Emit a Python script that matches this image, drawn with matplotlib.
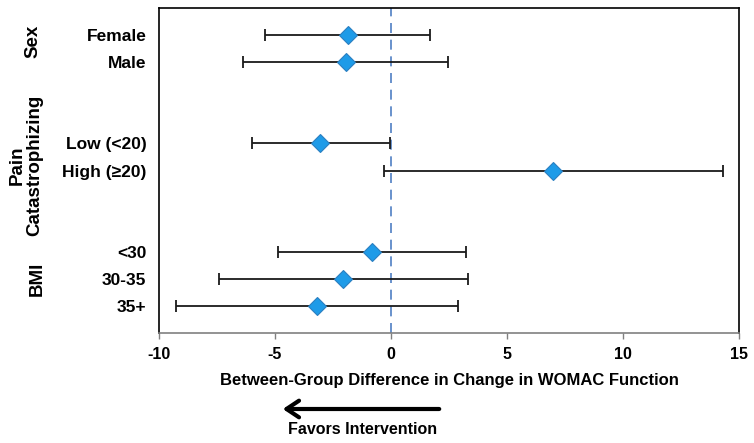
import numpy as np
import matplotlib.pyplot as plt

plt.rcParams['font.family'] = ['Liberation Sans', 'DejaVu Sans']
plt.rcParams['font.weight'] = 'bold'

# subgroup data
labels = ['Female', 'Male', 'Low (<20)', 'High (≥20)', '<30', '30-35', '35+']
rows = [1, 2, 5, 6, 9, 10, 11]
est = [-1.85, -1.95, -3.05, 7.0, -0.8, -2.05, -3.2]
lo = [-5.45, -6.4, -6.0, -0.3, -4.85, -7.4, -9.25]
hi = [1.7, 2.45, -0.05, 14.3, 3.25, 3.3, 2.9]

groups = ['Sex', 'Pain\nCatastrophizing', 'BMI']
group_rows = [1.25, 5.8, 10.0]
group_x = [33, 26, 37]  # pixel x of group label centres

xticks = [-10, -5, 0, 5, 10, 15]

fig = plt.figure(figsize=(7.54, 4.43), dpi=100)
ax = fig.add_axes([159 / 754, 1 - 333 / 443, 580 / 754, 325 / 443])

est = np.array(est)
err = [est - np.array(lo), np.array(hi) - est]
ax.errorbar(est, rows, xerr=err, fmt='none', ecolor='#1a1a1a', elinewidth=1.3,
            capsize=4.5, capthick=1.3, zorder=2)
ax.plot(est, rows, 'D', color='#1E9BE8', markeredgecolor='#2b7fc0',
        markeredgewidth=0.8, markersize=9.5, zorder=3)
ax.axvline(0, color='#4f7fc4', lw=1.2, ls=(0, (6, 4)), zorder=1)

ax.set_xlim(-10, 15)
ax.set_ylim(12, 0)
ax.set_xticks(xticks)
ax.set_xticklabels([str(t) for t in xticks], fontsize=11.5, fontweight='bold')
ax.set_yticks(rows)
ax.set_yticklabels(labels, fontsize=12.5, fontweight='bold')
ax.tick_params(axis='y', length=0, pad=9)
ax.tick_params(axis='x', length=4, width=1, color='#808080', pad=6)
for s in ['left', 'top', 'right']:
    ax.spines[s].set_color('black')
    ax.spines[s].set_linewidth(1.2)
ax.spines['bottom'].set_color('#808080')
ax.spines['bottom'].set_linewidth(1.2)

ax.set_xlabel('Between-Group Difference in Change in WOMAC Function',
              fontsize=12, fontweight='bold', labelpad=8)

# group labels: x in figure pixels, y in data rows
trans = plt.matplotlib.transforms.blended_transform_factory(fig.transFigure, ax.transData)
for g, r, px in zip(groups, group_rows, group_x):
    ax.text(px / 754, r, g, transform=trans,
            rotation=90, ha='center', va='center', fontsize=13.5, fontweight='bold',
            multialignment='center', linespacing=1.05)

# arrow below axis
fig.patches.append(plt.matplotlib.patches.FancyArrowPatch(
    (442 / 754, 1 - 409 / 443), (280 / 754, 1 - 409 / 443), transform=fig.transFigure,
    arrowstyle='->,head_length=9,head_width=6', lw=3, color='black', mutation_scale=1))
fig.text(363 / 754, 1 - 430 / 443, 'Favors Intervention', ha='center', va='center',
         fontsize=11.5, fontweight='bold')

fig.savefig('out.png', dpi=100)
